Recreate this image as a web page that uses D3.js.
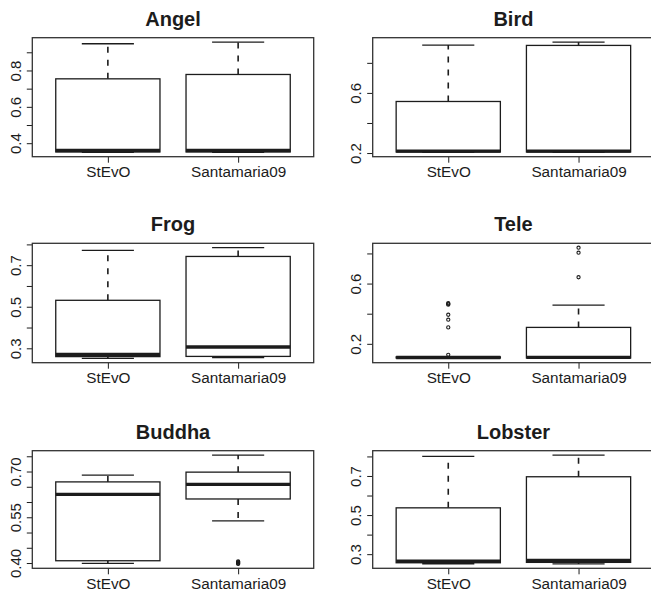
<!DOCTYPE html>
<html><head><meta charset="utf-8">
<script src="https://cdn.jsdelivr.net/npm/d3@7"></script>
<style>body{margin:0;background:#fff}svg{display:block}</style></head><body>
<svg id="c" width="651" height="596"></svg>
<script>
const categories = ["StEvO", "Santamaria09"];
const panelTitles = ["Angel", "Bird", "Frog", "Tele", "Buddha", "Lobster"];
// five-number summaries per method: [lower whisker, Q1, median, Q3, upper whisker]
const angelStats   = [[0.350, 0.352, 0.360, 0.754, 0.947], [0.350, 0.352, 0.360, 0.778, 0.956]];
const birdStats    = [[0.205, 0.207, 0.213, 0.543, 0.918], [0.205, 0.207, 0.213, 0.916, 0.938]];
const frogStats    = [[0.252, 0.260, 0.271, 0.531, 0.771], [0.255, 0.261, 0.306, 0.742, 0.784]];
const teleStats    = [[0.104, 0.106, 0.109, 0.113, 0.115], [0.104, 0.106, 0.110, 0.309, 0.457]];
const buddhaStats  = [[0.399, 0.4075, 0.625, 0.666, 0.688], [0.538, 0.610, 0.658, 0.698, 0.754]];
const lobsterStats = [[0.251, 0.256, 0.264, 0.537, 0.800], [0.250, 0.258, 0.268, 0.696, 0.807]];
// outliers per method
const angelOut   = [[], []];
const birdOut    = [[], []];
const frogOut    = [[], []];
const teleOut    = [[0.127, 0.309, 0.360, 0.393, 0.460, 0.465, 0.470], [0.642, 0.805, 0.838]];
const buddhaOut  = [[], [0.397, 0.399, 0.401, 0.403, 0.405]];
const lobsterOut = [[], []];
// y tick values and which of them carry labels
const angelTicks   = [0.4, 0.5, 0.6, 0.7, 0.8, 0.9],          angelLabels   = ["0.4", "", "0.6", "", "0.8", ""];
const birdTicks    = [0.2, 0.4, 0.6, 0.8],                    birdLabels    = ["0.2", "", "0.6", ""];
const frogTicks    = [0.3, 0.4, 0.5, 0.6, 0.7, 0.8],          frogLabels    = ["0.3", "", "0.5", "", "0.7", ""];
const teleTicks    = [0.2, 0.4, 0.6, 0.8],                    teleLabels    = ["0.2", "", "0.6", ""];
const buddhaTicks  = [0.40, 0.45, 0.50, 0.55, 0.60, 0.65, 0.70, 0.75], buddhaLabels = ["0.40", "", "", "0.55", "", "", "0.70", ""];
const lobsterTicks = [0.3, 0.4, 0.5, 0.6, 0.7, 0.8],          lobsterLabels = ["0.3", "", "0.5", "", "0.7", ""];

const allStats  = [angelStats, birdStats, frogStats, teleStats, buddhaStats, lobsterStats];
const allOut    = [angelOut, birdOut, frogOut, teleOut, buddhaOut, lobsterOut];
const allTicks  = [angelTicks, birdTicks, frogTicks, teleTicks, buddhaTicks, lobsterTicks];
const allLabels = [angelLabels, birdLabels, frogLabels, teleLabels, buddhaLabels, lobsterLabels];

const cols = [[32.3, 313.7], [372.7, 654.1]];
const rows = [[37.7, 156.7], [243.3, 362.7], [450.7, 568.3]];
const FONT = "'Liberation Sans', Arial, Helvetica, sans-serif";
const INK = "#1c1c1c";

const svg = d3.select("#c");

panelTitles.forEach((title, i) => {
  const [x0, x1] = cols[i % 2];
  const [y0, y1] = rows[Math.floor(i / 2)];
  const stats = allStats[i], outs = allOut[i];
  const vals = stats.flat().concat(outs.flat());
  const lo = d3.min(vals), hi = d3.max(vals), pad = 0.04 * (hi - lo);
  const y = d3.scaleLinear().domain([lo - pad, hi + pad]).range([y1, y0]);
  const x = d3.scaleLinear().domain([0.42, 2.58]).range([x0, x1]);
  const g = svg.append("g");

  // title
  g.append("text").attr("x", (x0 + x1) / 2).attr("y", y0 - 12)
    .attr("text-anchor", "middle").attr("font-family", FONT)
    .attr("font-size", 20).attr("font-weight", "bold").attr("fill", INK).text(title);

  // y axis
  const labels = allLabels[i], ticks = allTicks[i];
  const ya = g.append("g").attr("transform", `translate(${x0},0)`)
    .call(d3.axisLeft(y).tickValues(ticks).tickSize(5.5).tickSizeOuter(0)
      .tickFormat((d, k) => labels[k]));
  ya.select(".domain").remove();
  ya.selectAll("line").attr("stroke", INK).attr("stroke-width", 1);
  ya.selectAll("text").attr("x", 0).attr("y", -11.5).attr("dy", null)
    .attr("transform", "rotate(-90)").attr("text-anchor", "middle")
    .attr("font-family", FONT).attr("font-size", 15).attr("fill", INK);

  // x axis
  const xa = g.append("g").attr("transform", `translate(0,${y1})`)
    .call(d3.axisBottom(x).tickValues([1, 2]).tickSize(6).tickSizeOuter(0)
      .tickFormat((d) => categories[d - 1]));
  xa.select(".domain").remove();
  xa.selectAll("line").attr("stroke", INK).attr("stroke-width", 1);
  xa.selectAll("text").attr("y", 20.5).attr("dy", null)
    .attr("font-family", FONT).attr("font-size", 15.3).attr("fill", INK);

  // boxes
  stats.forEach((s, k) => {
    const cx = x(k + 1);
    const bw = x(1.4) - x(1), cw = x(1.2) - x(1);
    const [mn, q1, md, q3, mx] = s;
    // whiskers
    [[q3, mx], [q1, mn]].forEach(([a, b]) => {
      g.append("line").attr("x1", cx).attr("x2", cx).attr("y1", y(a)).attr("y2", y(b))
        .attr("stroke", INK).attr("stroke-width", 1.6).attr("stroke-dasharray", "6,7");
    });
    [mx, mn].forEach(v => {
      g.append("line").attr("x1", cx - cw).attr("x2", cx + cw).attr("y1", y(v)).attr("y2", y(v))
        .attr("stroke", INK).attr("stroke-width", 1.3);
    });
    g.append("rect").attr("x", cx - bw).attr("width", 2 * bw)
      .attr("y", y(q3)).attr("height", Math.max(0.1, y(q1) - y(q3)))
      .attr("fill", "#fff").attr("stroke", INK).attr("stroke-width", 1.3);
    g.append("line").attr("x1", cx - bw).attr("x2", cx + bw).attr("y1", y(md)).attr("y2", y(md))
      .attr("stroke", INK).attr("stroke-width", 3.4);
    outs[k].forEach(v => {
      g.append("circle").attr("cx", cx).attr("cy", y(v)).attr("r", 1.6)
        .attr("fill", "none").attr("stroke", INK).attr("stroke-width", 1.1);
    });
  });

  // frame
  g.append("rect").attr("x", x0).attr("y", y0).attr("width", x1 - x0).attr("height", y1 - y0)
    .attr("fill", "none").attr("stroke", "#333").attr("stroke-width", 1.3);
});
</script>
</body></html>
